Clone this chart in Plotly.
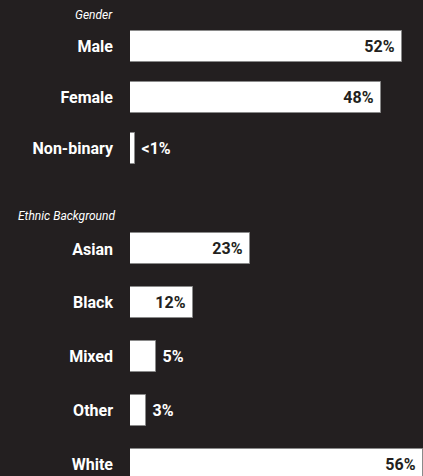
import plotly.graph_objects as go
from plotly.subplots import make_subplots

# ---- data ----
gender_labels = ["Male", "Female", "Non-binary"]
gender_values = [52, 48, 1.0]
gender_text = ["52%", "48%", "<1%"]

ethnic_labels = ["Asian", "Black", "Mixed", "Other", "White"]
ethnic_values = [23, 12, 5, 3, 56]
ethnic_text = ["23%", "12%", "5%", "3%", "56%"]

group_titles = ["Gender", "Ethnic Background"]

# ---- style ----
BG = "#231f20"
FONT = "Roboto"
W, H = 423, 476
NB = "\u00a0"


def text_pos(values):
    return ["inside" if v >= 10 else "outside" for v in values]


def text_col(values):
    return [BG if v >= 10 else "white" for v in values]


def text_tpl(values):
    return ["%{text}" + NB if v >= 10 else NB + "%{text}" for v in values]


fig = make_subplots(rows=2, cols=1)

fig.add_trace(go.Bar(
    x=gender_values, y=gender_labels, orientation="h",
    text=gender_text, texttemplate=text_tpl(gender_values),
    textposition=text_pos(gender_values),
    insidetextanchor="end",
    textfont=dict(family=FONT, size=16, color=text_col(gender_values), weight="bold"),
    marker=dict(color="white", line=dict(color="#8a8a8a", width=1)),
    width=0.61, cliponaxis=True, hoverinfo="skip",
), row=1, col=1)

fig.add_trace(go.Bar(
    x=ethnic_values, y=ethnic_labels, orientation="h",
    text=ethnic_text, texttemplate=text_tpl(ethnic_values),
    textposition=text_pos(ethnic_values),
    insidetextanchor="end",
    textfont=dict(family=FONT, size=16, color=text_col(ethnic_values), weight="bold"),
    marker=dict(color="white", line=dict(color="#8a8a8a", width=1)),
    width=0.575, cliponaxis=True, hoverinfo="skip",
), row=2, col=1)

x_dom = [130 / W, 1]
fig.update_xaxes(range=[0, 56], domain=x_dom, visible=False, fixedrange=True)
fig.layout.xaxis.anchor = "y"
fig.layout.xaxis2.anchor = "y2"

ytick = dict(family=FONT, size=16, color="white", weight="bold")
fig.update_layout(
    yaxis=dict(domain=[1 - 174 / H, 1 - 21 / H], categoryorder="array",
               categoryarray=gender_labels, range=[2.5, -0.5],
               showgrid=False, zeroline=False, showline=False,
               tickfont=ytick, ticks="", ticklabelstandoff=16),
    yaxis2=dict(domain=[0, 1 - 222 / H], categoryorder="array",
                categoryarray=ethnic_labels, range=[4.214, -0.5],
                showgrid=False, zeroline=False, showline=False,
                tickfont=ytick, ticks="", ticklabelstandoff=16),
)

fig.add_annotation(text=group_titles[0], xref="paper", yref="paper",
                   x=115 / W, y=1 - 15 / H, xanchor="right", yanchor="middle",
                   showarrow=False,
                   font=dict(family=FONT, size=12, color="white", style="italic"))
fig.add_annotation(text=group_titles[1], xref="paper", yref="paper",
                   x=117 / W, y=1 - 216 / H, xanchor="right", yanchor="middle",
                   showarrow=False,
                   font=dict(family=FONT, size=12, color="white", style="italic"))

fig.update_layout(
    width=W, height=H,
    margin=dict(l=0, r=0, t=0, b=0),
    paper_bgcolor=BG, plot_bgcolor=BG,
    showlegend=False, bargap=0,
    uniformtext=dict(mode="show", minsize=16),
)

fig.write_html("out.html", config={"displayModeBar": False})
